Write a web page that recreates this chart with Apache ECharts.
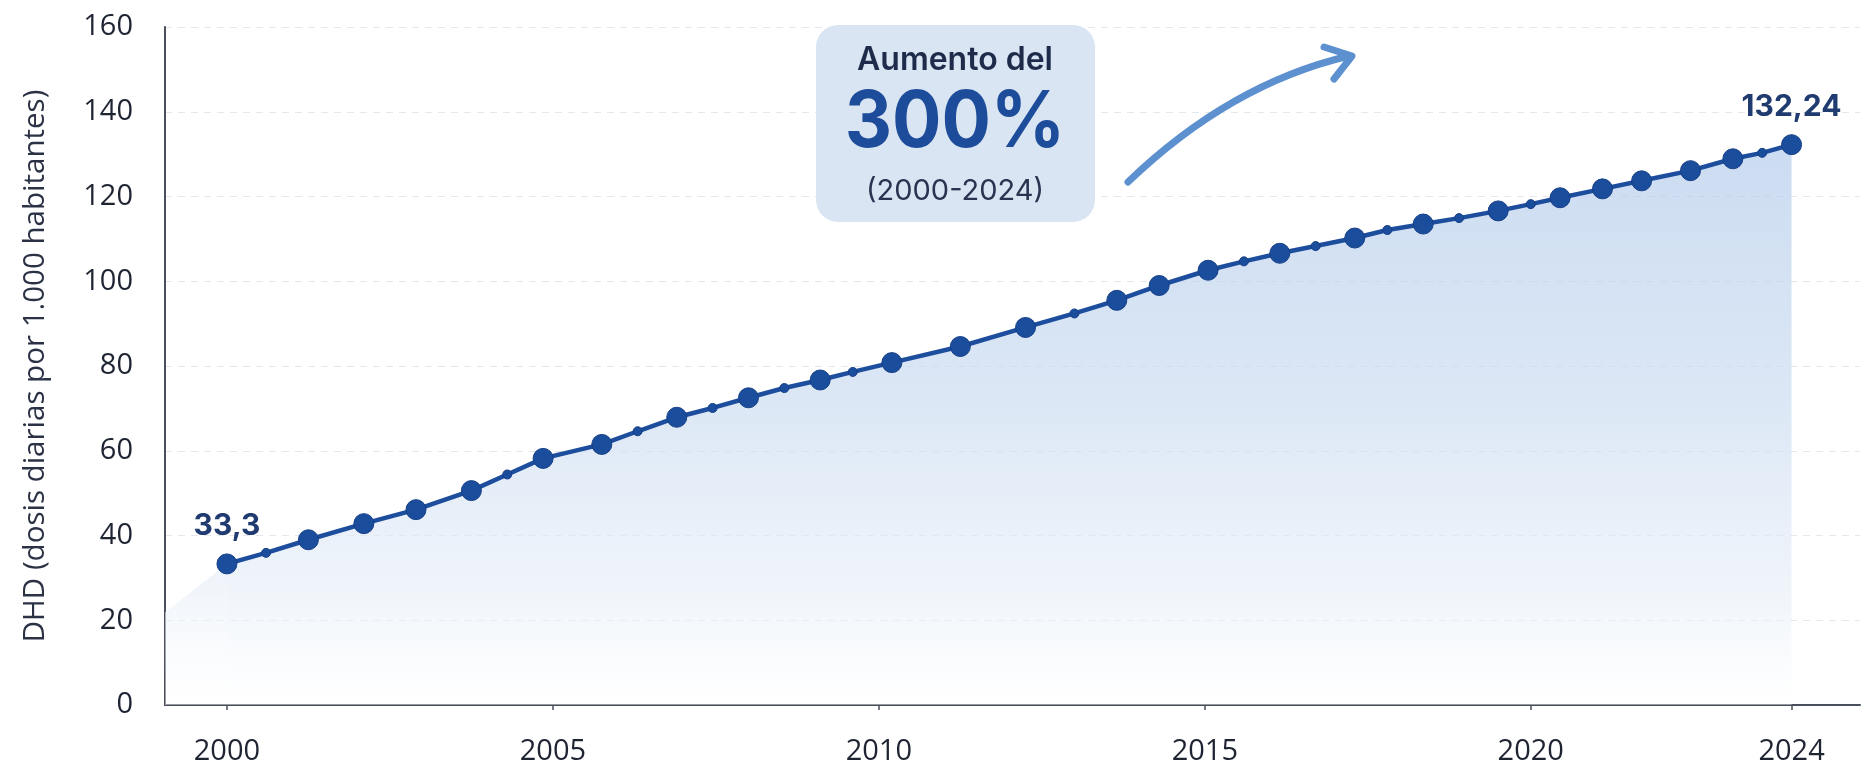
<!DOCTYPE html>
<html lang="es">
<head>
<meta charset="utf-8">
<title>DHD 2000-2024</title>
<script src="https://cdn.jsdelivr.net/npm/echarts@6/dist/echarts.min.js"></script>
<style>
  html, body { margin: 0; padding: 0; background: #ffffff; }
  #chart { width: 1870px; height: 766px; }
</style>
</head>
<body>
<div id="chart"></div>
<script>
// Sample dates (fractional years) and DHD readings
const years = [2000, 2000.6, 2001.25, 2002.1, 2002.9, 2003.75, 2004.3, 2004.85, 2005.75, 2006.3,
  2006.9, 2007.45, 2008.0, 2008.55, 2009.1, 2009.6, 2010.2, 2011.25, 2012.25, 2013.0,
  2013.65, 2014.3, 2015.05, 2015.6, 2016.15, 2016.7, 2017.3, 2017.8, 2018.35, 2018.9,
  2019.5, 2020.0, 2020.45, 2021.1, 2021.7, 2022.45, 2023.1, 2023.55, 2024];
const dhd = [33.3, 35.9, 39.0, 42.8, 46.1, 50.6, 54.4, 58.2, 61.5, 64.6,
  67.9, 70.1, 72.5, 74.8, 76.7, 78.6, 80.8, 84.6, 89.1, 92.4,
  95.5, 99.0, 102.6, 104.7, 106.6, 108.3, 110.2, 112.1, 113.5, 114.9,
  116.6, 118.2, 119.7, 121.8, 123.7, 126.1, 128.9, 130.3, 132.24];
// Interim readings (drawn with small markers)
const interimIdx = [1, 6, 9, 11, 13, 15, 19, 23, 25, 27, 29, 31, 37];
// Faint lead-in of the shaded area, from the axis to the first reading
const leadInYears = [1999.05, 2000];
const leadInValues = [21.9, 33.3];
// Axis ticks
const yearTicks = [2000, 2005, 2010, 2015, 2020, 2024];
const dhdMin = 0, dhdMax = 160, dhdStep = 20;

const fmtComma = v => String(v).replace('.', ',');
const lastIdx = dhd.length - 1;

const lineData = dhd.map((v, i) => {
  const small = interimIdx.includes(i);
  const labelled = i === 0 || i === lastIdx;
  return {
    value: [years[i], v],
    symbolSize: small ? 9 : 20,
    label: { show: labelled }
  };
});

const chart = echarts.init(document.getElementById('chart'), null, { renderer: 'canvas' });

const axisTextColor = '#1f2433';
const axisFont = '"Open Sans", "Noto Sans", sans-serif';
const boldFont = 'Inter, "Noto Sans", sans-serif';

chart.setOption({
  backgroundColor: '#ffffff',
  animation: false,
  grid: { left: 165, right: 10, top: 27, bottom: 61 },
  xAxis: {
    type: 'value',
    min: 1999.05,
    max: 2025.05,
    axisLine: { show: true, lineStyle: { color: '#4a4f5c', width: 2 } },
    axisTick: { show: true, customValues: yearTicks, length: 5, lineStyle: { color: '#4a4f5c', width: 1.5 } },
    axisLabel: {
      customValues: yearTicks,
      formatter: v => String(Math.round(v)),
      color: axisTextColor,
      fontFamily: axisFont,
      fontSize: 29,
      margin: 32
    },
    splitLine: { show: false }
  },
  yAxis: {
    type: 'value',
    min: dhdMin,
    max: dhdMax,
    interval: dhdStep,
    name: 'DHD (dosis diarias por 1.000 habitantes)',
    nameLocation: 'middle',
    nameGap: 114,
    nameTextStyle: { color: '#2b3245', fontFamily: axisFont, fontSize: 29.5 },
    axisLine: { show: true, lineStyle: { color: '#4a4f5c', width: 2 } },
    axisTick: { show: false },
    axisLabel: { color: axisTextColor, fontFamily: axisFont, fontSize: 29, margin: 32 },
    splitLine: { show: true, lineStyle: { color: '#e4e7ec', width: 1.2, type: [7, 6] } }
  },
  series: [
    {
      type: 'line',
      data: leadInYears.map((y, i) => [y, leadInValues[i]]),
      showSymbol: false,
      silent: true,
      lineStyle: { width: 0 },
      areaStyle: {
        color: new echarts.graphic.LinearGradient(0, 0, 0, 1, [
          { offset: 0, color: 'rgba(228,236,247,0.95)' },
          { offset: 1, color: 'rgba(255,255,255,0.6)' }
        ])
      },
      z: 1
    },
    {
      type: 'line',
      data: lineData,
      symbol: 'circle',
      lineStyle: { color: '#1d4e9e', width: 4.5 },
      itemStyle: { color: '#1b4d9d', borderColor: '#163f86', borderWidth: 1 },
      areaStyle: {
        color: new echarts.graphic.LinearGradient(0, 0, 0, 1, [
          { offset: 0, color: 'rgba(178,202,234,0.95)' },
          { offset: 0.45, color: 'rgba(200,218,240,0.92)' },
          { offset: 0.8, color: 'rgba(230,238,248,0.88)' },
          { offset: 1, color: 'rgba(255,255,255,0.6)' }
        ])
      },
      label: {
        position: 'top',
        distance: 12,
        formatter: p => fmtComma(p.value[1]),
        color: '#1f3b70',
        fontFamily: boldFont,
        fontWeight: 700,
        fontSize: 30
      },
      z: 3
    }
  ],
  graphic: [
    {
      type: 'rect',
      shape: { x: 816, y: 25, width: 279, height: 197, r: 22 },
      style: { fill: '#dae5f3' },
      z: 10
    },
    {
      type: 'text',
      x: 955, y: 60,
      style: { text: 'Aumento del', x: 0, y: 0, textAlign: 'center', textVerticalAlign: 'middle',
        font: '600 32px ' + boldFont, fill: '#1e2b4a' },
      z: 11
    },
    {
      type: 'text',
      x: 955, y: 124,
      scaleX: 0.94,
      style: { text: '300%', x: 0, y: 0, textAlign: 'center', textVerticalAlign: 'middle',
        font: '700 78px ' + boldFont, fill: '#1d4d9a' },
      z: 11
    },
    {
      type: 'text',
      x: 955, y: 191,
      style: { text: '(2000-2024)', x: 0, y: 0, textAlign: 'center', textVerticalAlign: 'middle',
        font: '400 29px ' + boldFont, fill: '#2a3350' },
      z: 11
    },
    {
      type: 'bezierCurve',
      shape: { x1: 1128, y1: 182, cpx1: 1230, cpy1: 84, x2: 1349, y2: 56 },
      style: { stroke: '#5d90cf', lineWidth: 7, lineCap: 'round', fill: null },
      z: 11
    },
    {
      type: 'polyline',
      shape: { points: [[1324, 47], [1352, 56], [1334, 79]] },
      style: { stroke: '#5d90cf', lineWidth: 7, lineCap: 'round', lineJoin: 'round', fill: null },
      z: 11
    }
  ]
});
</script>
</body>
</html>
